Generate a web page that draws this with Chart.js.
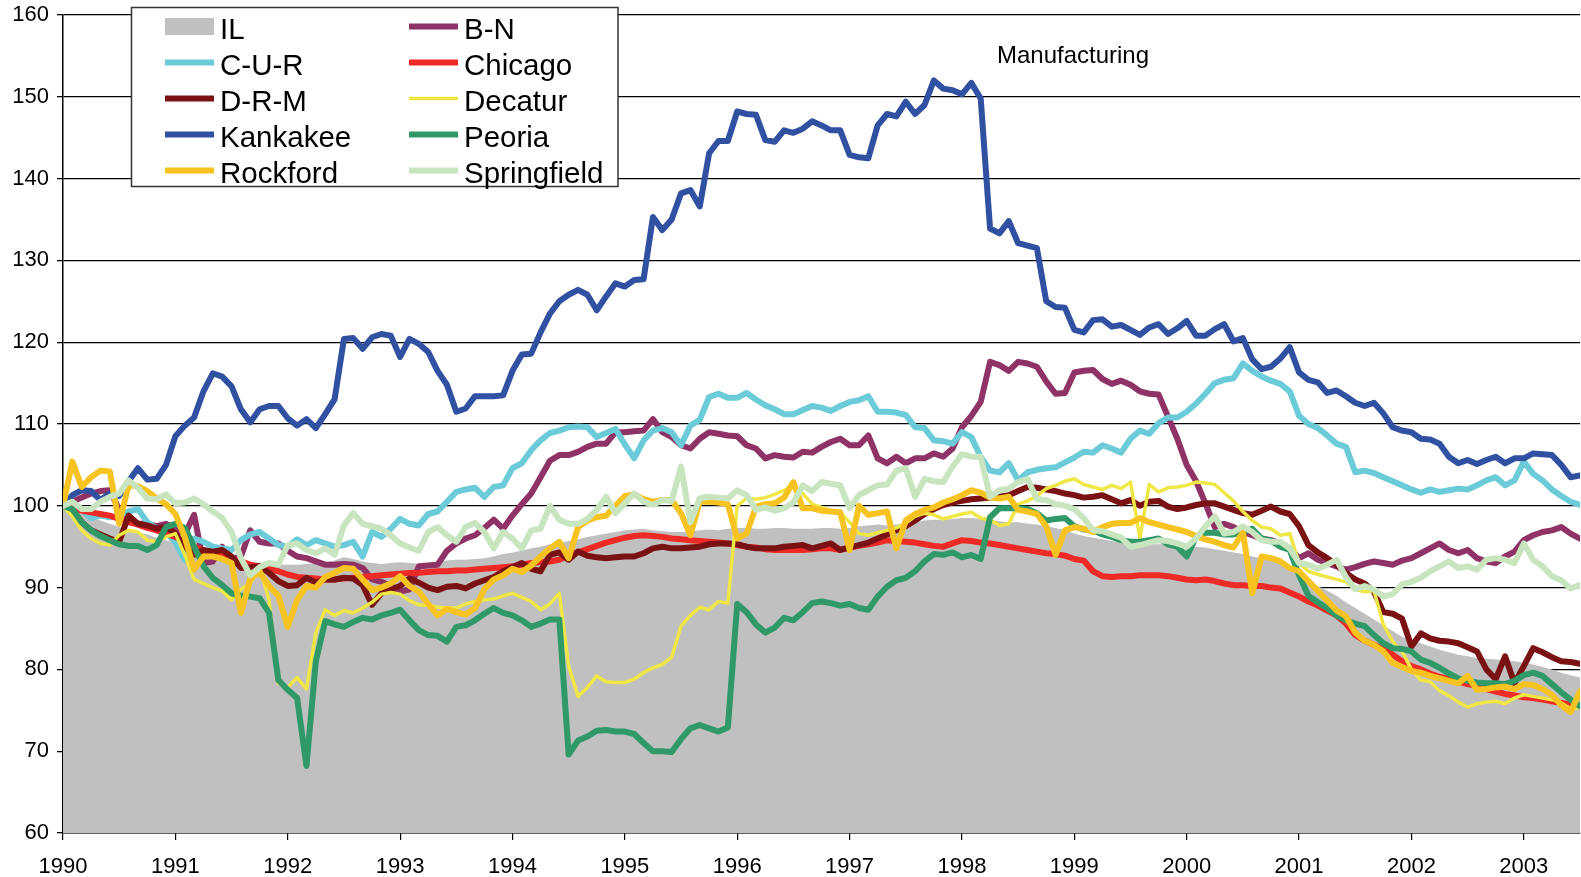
<!DOCTYPE html>
<html>
<head>
<meta charset="utf-8">
<title>Manufacturing</title>
<script src="https://cdn.jsdelivr.net/npm/chart.js@4.4.1/dist/chart.umd.min.js"></script>
<style>
  html, body { margin: 0; padding: 0; background: #fff; }
  #wrap { width: 1581px; height: 877px; position: relative; }
</style>
</head>
<body>
<div id="wrap"><canvas id="chart"></canvas></div>
<script>
// monthly index values, Jan 1990 = 100 (Jan 1990 .. Jul 2003)
const chartTitle = 'Manufacturing';
const firstYear = 1990;

const il = [
  100, 99.6, 99.0, 98.6, 98.2, 97.8, 97.4, 97.1, 96.8, 96.5, 96.1, 95.8,
  95.4, 95.0, 94.6, 94.3, 94.0, 93.7, 93.5, 93.3, 93.1, 93.0, 92.9, 92.8,
  92.8, 92.8, 92.9, 93.0, 93.1, 93.3, 93.7, 93.5, 93.2, 93.0, 92.9, 93.0,
  93.1, 93.0, 92.9, 93.0, 93.2, 93.3, 93.4, 93.4, 93.5, 93.6, 93.8, 94.1,
  94.3, 94.5, 94.8, 95.0, 95.3, 95.5, 95.7, 95.9, 96.2, 96.4, 96.6, 96.8,
  97.0, 97.1, 97.2, 97.0, 96.9, 96.8, 96.8, 96.9, 97.0, 97.1, 97.0, 97.2,
  97.3, 97.3, 97.2, 97.2, 97.3, 97.3, 97.2, 97.2, 97.2, 97.3, 97.3, 97.2,
  97.3, 97.5, 97.6, 97.7, 97.6, 97.7, 97.9, 98.0, 98.2, 98.3, 98.3, 98.4,
  98.5, 98.5, 98.4, 98.3, 98.1, 98.0, 98.0, 97.8, 97.7, 97.5, 97.3, 97.0,
  96.6, 96.3, 96.1, 95.9, 95.7, 95.5, 95.4, 95.4, 95.3, 95.3, 95.3, 95.2,
  95.1, 95.0, 94.9, 94.7, 94.5, 94.3, 94.1, 93.8, 93.6, 93.3, 93.0, 92.4,
  91.6, 90.8, 90.2, 89.6, 89.0, 88.2, 87.5, 86.8, 86.1, 85.4, 84.7, 84.0,
  83.6, 83.2, 82.8, 82.4, 82.1, 81.8, 81.6, 81.4, 81.3, 81.2, 81.1, 81.0,
  80.8, 80.6, 80.3, 80.0, 79.6, 79.3, 79.0
];

const bn = [
  100, 100.5, 101.0, 101.5, 101.8, 101.9, 99.5, 98.2, 97.8, 97.8, 97.5, 97.8,
  97.2, 96.5, 98.9, 93.0, 93.2, 95.0, 93.5, 93.8, 97.0, 95.6, 95.4, 95.4,
  94.5, 93.8, 93.6, 93.2, 92.8, 92.8, 92.9, 92.8, 92.4, 91.0, 90.7, 90.2,
  89.5, 89.8, 92.6, 92.7, 92.8, 94.5, 95.4, 96.0, 96.4, 97.3, 98.3, 97.2,
  98.8, 100.2, 101.5, 103.5, 105.5, 106.2, 106.2, 106.6, 107.2, 107.6, 107.6, 109.0,
  109.0, 109.1, 109.2, 110.6, 109.0, 108.4, 107.4, 107.0, 108.2, 109.0, 108.8, 108.6,
  108.5, 107.4, 107.0, 105.8, 106.2, 106.0, 105.9, 106.6, 106.5, 107.2, 107.8, 108.2,
  107.4, 107.4, 108.6, 105.8, 105.2, 106.0, 105.2, 105.8, 105.8, 106.4, 106.0, 107.0,
  109.6, 111.0, 112.7, 117.6, 117.2, 116.5, 117.6, 117.4, 117.0, 115.2, 113.7, 113.8,
  116.3, 116.5, 116.6, 115.5, 114.9, 115.3, 114.8, 114.0, 113.7, 113.6, 110.9, 108.2,
  105.0, 103.0, 100.3, 97.4, 97.8, 97.4, 96.8, 96.4, 96.0, 95.8, 95.4, 94.8,
  93.6, 94.2, 93.4, 93.0, 92.6, 92.2, 92.5, 92.9, 93.2, 93.0, 92.8, 93.3,
  93.6, 94.2, 94.8, 95.4, 94.6, 94.2, 94.6, 93.6, 93.2, 93.0, 93.8, 94.4,
  95.8, 96.4, 96.8, 97.0, 97.4, 96.6, 96.0
];

const cur = [
  100, 100.3, 99.5, 98.5, 98.8, 98.6, 98.8, 99.3, 99.6, 98.0, 97.2, 96.8,
  95.5, 93.4, 96.0, 95.6, 95.0, 94.8, 94.6, 95.8, 96.5, 96.8, 96.0, 95.2,
  95.0, 95.9, 95.2, 95.8, 95.4, 95.0, 95.2, 95.6, 93.8, 96.8, 96.2, 97.2,
  98.4, 97.8, 97.6, 99.0, 99.3, 100.5, 101.7, 102.0, 102.2, 101.1, 102.3, 102.5,
  104.6, 105.2, 106.8, 108.0, 108.9, 109.2, 109.6, 109.7, 109.6, 108.4, 108.9, 109.4,
  107.5, 105.8, 108.0, 109.2, 109.5, 109.0, 107.4, 109.8, 110.5, 113.3, 113.7, 113.2,
  113.2, 113.8, 113.0, 112.3, 111.8, 111.2, 111.2, 111.7, 112.2, 112.0, 111.6, 112.2,
  112.7, 112.9, 113.4, 111.5, 111.5, 111.4, 111.1, 109.6, 109.5, 108.0, 107.9, 107.6,
  109.0, 108.4, 106.0, 104.3, 104.1, 105.2, 103.1, 104.1, 104.4, 104.6, 104.7, 105.3,
  105.9, 106.6, 106.5, 107.4, 107.0, 106.5, 108.2, 109.2, 108.8, 110.1, 110.8, 110.8,
  111.5, 112.5, 113.7, 115.0, 115.4, 115.6, 117.4, 116.5, 115.8, 115.3, 114.9, 114.0,
  111.0, 110.0, 109.5, 108.6, 107.6, 107.2, 104.1, 104.3, 104.0, 103.5, 103.0, 102.5,
  102.0, 101.6, 102.0, 101.7, 101.9, 102.1, 102.0, 102.5, 103.1, 103.5, 102.5, 103.1,
  105.4, 103.9, 103.1, 102.0, 101.2, 100.5, 100.1
];

const chicago = [
  100, 99.7, 99.4, 99.2, 99.0, 98.8, 98.4, 98.0, 97.7, 97.3, 97.0, 96.6,
  96.2, 95.6, 95.0, 94.5, 94.1, 93.8, 93.5, 93.2, 92.8, 92.6, 92.3, 92.0,
  91.6, 91.3, 91.2, 91.1, 91.0, 91.0, 91.1, 91.2, 91.3, 91.4, 91.5, 91.6,
  91.7, 91.8, 91.8, 91.9, 92.0, 92.0, 92.1, 92.1, 92.2, 92.3, 92.4, 92.5,
  92.6, 92.8, 93.0, 93.1, 93.2, 93.4, 94.0, 94.3, 94.7, 95.1, 95.5, 95.8,
  96.1, 96.3, 96.4, 96.3, 96.2, 96.0, 95.9, 95.8, 95.7, 95.6, 95.5, 95.4,
  95.2, 95.0, 94.9, 94.7, 94.6, 94.6, 94.6, 94.6, 94.7, 94.8, 94.8, 94.6,
  94.9, 95.1, 95.3, 95.5, 95.8, 95.7, 95.6, 95.5, 95.3, 95.1, 95.0, 95.4,
  95.8, 95.7, 95.5, 95.4, 95.2, 95.0, 94.8, 94.6, 94.4, 94.2, 94.1, 93.9,
  93.5, 93.3, 92.0, 91.4, 91.3, 91.4, 91.4, 91.5, 91.5, 91.5, 91.4, 91.2,
  91.0, 90.9, 91.0, 90.8, 90.5, 90.3, 90.3, 90.2, 90.2, 90.0, 89.9, 89.4,
  88.9, 88.3, 87.8, 87.2, 86.6, 85.6, 84.2, 83.5, 83.0, 82.5, 81.8, 81.0,
  80.4, 80.0, 79.5, 79.1, 78.8, 78.5, 78.2, 78.0, 77.6, 77.3, 77.0, 76.8,
  76.6, 76.5, 76.3, 76.1, 75.9, 75.7, 75.6
];

const drm = [
  100, 99.5, 98.0, 97.0, 96.5, 96.0, 95.6, 98.8, 97.8, 97.6, 97.2, 97.4,
  96.6, 95.0, 94.0, 94.6, 94.4, 94.6, 93.8, 92.4, 92.5, 92.6, 91.8, 90.8,
  90.2, 90.3, 91.2, 90.6, 91.0, 91.0, 91.2, 91.1, 90.3, 87.9, 89.3, 89.8,
  90.2, 91.1, 90.6, 90.0, 89.7, 90.1, 90.2, 89.9, 90.5, 90.9, 91.3, 92.0,
  92.5, 93.0, 92.3, 92.0, 94.0, 94.3, 93.4, 94.4, 93.9, 93.7, 93.6, 93.7,
  93.8, 93.8, 94.2, 94.8, 95.0, 94.8, 94.8, 94.9, 95.0, 95.3, 95.4, 95.4,
  95.3, 95.0, 94.8, 94.8, 94.8, 95.0, 95.1, 95.2, 94.8, 95.1, 95.4, 94.6,
  94.9, 95.2, 95.5, 96.0, 96.5, 97.0, 97.5, 98.2, 99.0, 99.6, 100.1, 100.4,
  100.6, 100.8, 100.9, 101.0, 101.1, 101.3, 101.8, 102.3, 102.2, 102.0, 101.8, 101.5,
  101.3, 101.0, 101.1, 101.3, 100.8, 100.3, 100.7, 100.0, 100.5, 100.6, 99.9, 99.6,
  99.8, 100.1, 100.3, 100.3, 99.9, 99.5, 99.1, 98.9, 99.4, 99.9, 99.3, 99.0,
  97.5, 95.2, 94.3, 93.6, 92.8, 91.8, 91.0, 90.5, 89.5, 87.0, 86.8, 86.2,
  82.8, 84.4, 83.8, 83.5, 83.4, 83.2, 82.7, 82.2, 80.0, 78.8, 81.6, 78.3,
  80.4, 82.6, 82.1, 81.5, 81.0, 80.9, 80.7
];

const decatur = [
  100, 98.7, 97.0, 96.0, 95.4, 95.2, 96.4, 97.0, 96.8, 95.8, 95.6, 96.2,
  96.6, 94.0, 91.0, 90.5, 90.0, 89.6, 88.5, 89.8, 90.5, 92.5, 88.5, 78.3,
  77.8, 79.0, 77.6, 84.5, 87.3, 86.6, 87.2, 86.9, 87.5, 88.2, 89.2, 89.4,
  89.2, 88.4, 87.9, 87.8, 87.6, 87.5, 87.5, 88.0, 88.3, 88.5, 88.6, 89.0,
  89.3, 88.8, 88.3, 87.3, 88.0, 89.3, 80.4, 76.7, 77.8, 79.2, 78.5, 78.4,
  78.4, 78.8, 79.6, 80.2, 80.6, 81.5, 85.3, 86.6, 87.6, 87.3, 88.3, 88.1,
  100.0, 100.9, 100.8, 101.0, 101.4, 101.9, 102.5, 101.5, 100.2, 99.8, 99.4, 99.2,
  98.0, 96.6, 96.4, 96.7, 97.0, 97.3, 97.9, 98.7, 99.1, 98.9, 98.4, 98.7,
  99.0, 99.2, 98.5, 98.3, 97.6, 97.8, 100.2, 100.6, 101.2, 102.1, 102.5, 103.0,
  103.3, 102.6, 102.3, 102.0, 102.5, 102.1, 102.9, 96.0, 102.6, 101.7, 102.2, 102.3,
  102.5, 102.9, 102.8, 102.6, 101.6, 100.6, 99.3, 98.2, 97.4, 97.2, 96.4, 96.6,
  93.0, 92.0, 91.6, 91.3, 91.0, 90.7, 89.8, 89.5, 89.6, 85.5, 83.4, 82.2,
  80.0, 78.7, 78.5, 77.4, 76.8, 76.0, 75.4, 75.8, 76.0, 76.1, 75.8, 76.5,
  76.9, 76.7, 76.5, 76.3, 75.9, 75.2, 75.3
];

const kankakee = [
  100, 101.3, 101.9, 101.8, 100.7, 101.5, 101.2, 103.0, 104.6, 103.2, 103.3, 105.0,
  108.5, 109.8, 110.8, 114.0, 116.2, 115.8, 114.6, 111.8, 110.2, 111.8, 112.2, 112.2,
  110.7, 109.8, 110.6, 109.5, 111.2, 113.0, 120.4, 120.5, 119.2, 120.6, 121.0, 120.8,
  118.2, 120.4, 119.8, 118.8, 116.5, 114.8, 111.5, 111.9, 113.4, 113.4, 113.4, 113.5,
  116.5, 118.5, 118.6, 121.2, 123.5, 125.0, 125.8, 126.4, 125.8, 123.9, 125.6, 127.2,
  126.8, 127.6, 127.7, 135.3, 133.7, 135.0, 138.2, 138.6, 136.6, 143.1, 144.6, 144.6,
  148.2, 147.9, 147.8, 144.7, 144.5, 145.9, 145.6, 146.1, 147.0, 146.5, 145.9, 145.9,
  142.9, 142.6, 142.5, 146.5, 147.9, 147.6, 149.4, 147.9, 149.0, 152.0, 151.0, 150.8,
  150.3, 151.7, 149.8, 133.9, 133.3, 134.8, 132.1, 131.8, 131.5, 125.0, 124.3, 124.2,
  121.5, 121.2, 122.7, 122.8, 121.9, 122.1, 121.5, 120.9, 121.8, 122.2, 121.0, 121.7,
  122.6, 120.8, 120.8, 121.6, 122.2, 120.1, 120.5, 117.9, 116.7, 117.0, 118.0, 119.4,
  116.3, 115.4, 115.1, 113.8, 114.1, 113.4, 112.6, 112.2, 112.6, 111.3, 109.6, 109.2,
  109.0, 108.2, 108.1, 107.6, 106.0, 105.2, 105.6, 105.1, 105.6, 106.0, 105.2, 105.8,
  105.8, 106.4, 106.3, 106.2, 105.0, 103.5, 103.7
];

const peoria = [
  100, 99.6, 98.0, 97.0, 96.3, 95.8, 95.3, 95.1, 95.1, 94.6, 95.2, 97.4,
  97.8, 97.3, 95.0, 92.6, 91.2, 90.3, 89.3, 89.0, 88.9, 88.7, 86.9, 78.7,
  77.5, 76.5, 68.2, 81.0, 85.9, 85.5, 85.2, 85.8, 86.3, 86.1, 86.6, 86.9,
  87.3, 86.0, 84.8, 84.2, 84.1, 83.4, 85.2, 85.4, 86.0, 86.8, 87.5, 86.9,
  86.6, 86.0, 85.2, 85.6, 86.1, 86.1, 69.6, 71.3, 71.8, 72.5, 72.6, 72.4,
  72.4, 72.1, 71.0, 70.0, 70.0, 69.9, 71.5, 72.8, 73.2, 72.8, 72.4, 72.9,
  88.0, 87.0, 85.5, 84.5, 85.1, 86.3, 86.0, 87.0, 88.1, 88.3, 88.1, 87.8,
  88.0, 87.5, 87.3, 88.9, 90.1, 90.9, 91.2, 92.0, 93.2, 94.1, 94.0, 94.3,
  93.7, 94.0, 93.5, 98.6, 99.7, 99.7, 99.7, 99.6, 99.1, 98.2, 98.4, 98.5,
  97.5, 97.1, 97.0, 96.5, 96.2, 95.8, 95.6, 95.6, 95.8, 96.0, 95.3, 95.0,
  93.8, 96.2, 96.7, 96.7, 96.5, 96.5, 96.8, 97.2, 96.0, 95.7, 95.0, 94.6,
  91.5, 89.0, 88.2, 87.5, 86.6, 86.0, 85.6, 85.3, 84.2, 83.2, 82.6, 82.5,
  82.2, 81.2, 80.8, 80.2, 79.5, 78.9, 78.6, 78.4, 78.3, 78.3, 78.2, 78.6,
  79.3, 79.6, 79.2, 78.2, 77.2, 76.3, 75.5
];

const rockford = [
  100, 105.4, 102.3, 103.5, 104.3, 104.2, 97.8, 102.5, 102.4, 101.8, 100.9, 100.2,
  99.0, 96.2, 92.2, 93.8, 93.8, 93.5, 93.0, 86.9, 91.1, 91.9, 90.2, 89.0,
  85.2, 88.5, 90.2, 90.0, 91.3, 91.8, 92.4, 92.3, 91.0, 89.7, 90.0, 90.5,
  91.4, 90.2, 89.5, 88.0, 86.6, 87.4, 87.0, 86.7, 87.5, 89.8, 91.0, 91.5,
  92.3, 91.9, 92.7, 93.8, 94.8, 95.6, 93.6, 97.4, 98.2, 98.6, 98.8, 100.0,
  101.2, 101.4, 100.8, 100.5, 100.7, 100.7, 99.1, 96.4, 100.5, 100.5, 100.4, 100.2,
  96.0, 96.6, 99.9, 100.2, 100.3, 101.0, 102.9, 99.7, 99.7, 99.4, 99.3, 99.2,
  94.6, 100.0, 98.9, 99.1, 99.3, 94.8, 98.2, 99.0, 99.5, 99.8, 100.4, 100.8,
  101.3, 101.9, 101.6, 101.0, 100.9, 101.1, 99.5, 99.3, 99.0, 97.5, 94.0, 97.0,
  97.4, 97.2, 96.8, 97.4, 97.8, 97.9, 97.9, 98.5, 98.0, 97.7, 97.4, 97.1,
  96.8, 96.3, 95.9, 95.6, 95.2, 94.9, 96.8, 89.3, 93.8, 93.6, 93.2, 92.4,
  92.0, 90.8, 89.6, 88.4, 87.2, 86.5, 84.5, 83.5, 83.0, 82.2, 80.8, 80.3,
  79.8, 79.6, 79.2, 78.9, 78.6, 78.3, 79.2, 77.5, 77.6, 77.8, 77.9, 77.6,
  78.2, 78.1, 77.6, 76.9, 75.6, 74.8, 77.3
];

const springfield = [
  100, 100.5, 99.6, 99.6, 100.5, 101.1, 101.5, 103.1, 102.2, 100.9, 100.8, 101.4,
  100.3, 100.4, 100.9, 100.2, 99.3, 98.5, 96.8, 93.6, 91.5, 92.5, 93.0, 92.8,
  95.2, 95.4, 94.6, 94.2, 94.8, 94.0, 97.6, 99.1, 97.8, 97.5, 97.2, 96.4,
  95.4, 94.9, 94.5, 96.8, 97.4, 96.4, 95.6, 97.4, 97.9, 96.8, 94.8, 96.8,
  96.0, 94.8, 97.0, 97.2, 100.0, 98.3, 97.8, 97.8, 98.4, 99.5, 101.1, 99.1,
  100.3, 101.5, 100.5, 100.1, 100.7, 100.6, 104.8, 98.0, 100.9, 101.1, 101.0, 100.9,
  101.9, 101.3, 99.5, 99.8, 99.4, 99.7, 100.4, 102.5, 101.8, 102.9, 102.7, 102.5,
  99.7, 101.3, 101.9, 102.5, 102.6, 104.3, 104.6, 101.1, 103.3, 103.0, 102.9, 104.8,
  106.3, 106.0, 106.0, 101.1, 101.9, 102.1, 102.9, 103.3, 100.8, 100.7, 100.2, 100.0,
  99.6, 98.5, 97.0, 96.9, 96.5, 96.1, 95.0, 95.2, 95.5, 95.8, 95.7, 95.4,
  95.0, 96.0, 97.5, 98.7, 96.6, 96.8, 97.5, 96.8, 95.8, 95.6, 95.6, 94.8,
  93.0, 92.8, 92.3, 92.8, 93.4, 91.3, 89.8, 90.2, 89.8, 88.9, 89.2, 90.4,
  90.7, 91.2, 92.0, 92.6, 93.2, 92.4, 92.6, 92.2, 93.4, 93.6, 93.4, 93.0,
  95.4, 93.4, 92.6, 91.4, 90.9, 89.9, 90.3
];

const font = '"Liberation Sans", Arial, Helvetica, sans-serif';

function pts(arr) {
  return arr.map((v, i) => ({ x: i, y: v }));
}

function line(label, arr, color, width) {
  return {
    label: label,
    data: pts(arr),
    borderColor: color,
    backgroundColor: color,
    borderWidth: width || 6,
    pointRadius: 0,
    fill: false,
    tension: 0,
    borderJoinStyle: 'round',
    borderCapStyle: 'round'
  };
}

const datasets = [
  {
    label: 'IL',
    data: pts(il),
    borderWidth: 0,
    borderColor: 'rgba(0,0,0,0)',
    backgroundColor: '#c0c0c0',
    pointRadius: 0,
    fill: 'start'
  },
  line('B-N', bn, '#8f3265'),
  line('C-U-R', cur, '#6ccbd8'),
  line('Chicago', chicago, '#ee2a27'),
  line('D-R-M', drm, '#7a1214'),
  line('Decatur', decatur, '#eee745', 3.5),
  line('Kankakee', kankakee, '#3051a2'),
  line('Peoria', peoria, '#2f9968'),
  line('Rockford', rockford, '#f7c321'),
  line('Springfield', springfield, '#c8e5c0')
];
// later series are painted on top, like the original
datasets.forEach((d, i) => { d.order = datasets.length - i; });

// legend box + title drawn straight on the canvas
const overlay = {
  id: 'overlay',
  afterDraw(chart) {
    const ctx = chart.ctx;
    ctx.save();

    ctx.font = '24px ' + font;
    ctx.fillStyle = '#000';
    ctx.textAlign = 'center';
    ctx.textBaseline = 'alphabetic';
    ctx.fillText(chartTitle, 1073, 63);

    ctx.fillStyle = '#fff';
    ctx.fillRect(131.5, 7.5, 486.5, 179);
    ctx.strokeStyle = '#333';
    ctx.lineWidth = 1.5;
    ctx.strokeRect(131.5, 7.5, 486.5, 179);

    ctx.font = '29.5px ' + font;
    ctx.textAlign = 'left';
    chart.data.datasets.forEach((ds, i) => {
      const col = i % 2;
      const row = Math.floor(i / 2);
      const x0 = col ? 409 : 165;
      const base = 38.5 + row * 36;
      const ym = base - 12;
      if (ds.fill) {
        ctx.fillStyle = ds.backgroundColor;
        ctx.fillRect(x0, ym - 8.5, 49, 17);
      } else {
        ctx.strokeStyle = ds.borderColor;
        ctx.lineWidth = ds.borderWidth;
        ctx.beginPath();
        ctx.moveTo(x0, ym);
        ctx.lineTo(x0 + 49, ym);
        ctx.stroke();
      }
      ctx.fillStyle = '#000';
      ctx.fillText(ds.label, x0 + 55, base);
    });
    ctx.restore();
  }
};

new Chart(document.getElementById('chart'), {
  type: 'line',
  data: { datasets: datasets },
  options: {
    responsive: true,
    maintainAspectRatio: false,
    animation: false,
    layout: { padding: { top: 15, right: 1, left: 0, bottom: 0 } },
    plugins: {
      legend: { display: false },
      tooltip: { enabled: false },
      title: { display: false }
    },
    scales: {
      x: {
        type: 'linear',
        min: 0,
        max: il.length - 1,
        afterFit(scale) { scale.height = 44; },
        grid: {
          drawOnChartArea: false,
          drawTicks: true,
          tickLength: 7,
          color: '#000',
          lineWidth: 1.2
        },
        border: { display: true, color: '#000', width: 1.5 },
        ticks: {
          stepSize: 12,
          includeBounds: false,
          autoSkip: false,
          maxRotation: 0,
          padding: 14,
          color: '#000',
          font: { family: font, size: 22 },
          callback: (v) => (v % 12 === 0 ? String(firstYear + v / 12) : '')
        }
      },
      y: {
        min: 60,
        max: 160,
        afterFit(scale) {
          scale.width = 63;
          scale.paddingTop = 0;
          scale.paddingBottom = 0;
        },
        grid: {
          color: '#000',
          lineWidth: 1.3,
          tickLength: 6
        },
        border: { display: true, color: '#000', width: 1.5 },
        ticks: {
          stepSize: 10,
          padding: 8,
          color: '#000',
          font: { family: font, size: 22 }
        }
      }
    }
  },
  plugins: [overlay]
});
</script>
</body>
</html>
